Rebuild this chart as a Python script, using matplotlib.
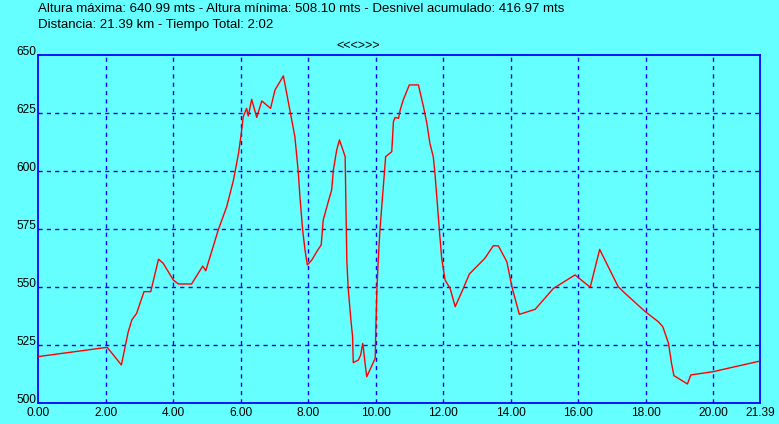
import matplotlib
matplotlib.use("Agg")
import matplotlib.pyplot as plt

dist = [0.00, 2.05, 2.47, 2.67, 2.78, 2.92, 3.14, 3.34, 3.57, 3.71, 4.01, 4.16, 4.55, 4.88, 4.97,
        5.34, 5.59, 5.79, 5.94, 6.01, 6.08, 6.18, 6.23, 6.33, 6.48, 6.63, 6.89, 7.02, 7.27,
        7.47, 7.61, 7.71, 7.76, 7.84, 7.91, 7.98, 8.11, 8.29, 8.39, 8.45, 8.60, 8.70, 8.75,
        8.85, 8.93, 9.00, 9.10, 9.13, 9.15, 9.19, 9.27, 9.32, 9.34, 9.49, 9.56, 9.62, 9.64,
        9.69, 9.74, 9.99, 10.01, 10.04, 10.08, 10.13, 10.23, 10.30, 10.48, 10.53, 10.58,
        10.68, 10.73, 10.82, 11.00, 11.27, 11.42, 11.52, 11.61, 11.71, 11.76, 11.83, 11.89,
        11.96, 12.06, 12.21, 12.36, 12.60, 12.78, 13.24, 13.49, 13.64, 13.89, 14.04, 14.26,
        14.73, 15.27, 15.91, 16.36, 16.64, 17.19, 17.39, 17.64, 17.99, 18.38, 18.51, 18.68,
        18.77, 18.84, 19.24, 19.34, 20.00, 21.39]
alt = [520.0, 524.0, 516.4, 530.5, 535.8, 538.6, 548.0, 548.0, 562.0, 560.2, 553.0, 551.3, 551.3, 559.0, 557.0,
       574.6, 584.6, 596.0, 607.6, 614.8, 623.4, 627.0, 623.7, 630.9, 623.1, 630.2, 627.0, 634.9, 641.0,
       625.6, 614.8, 599.7, 588.9, 574.6, 566.0, 559.5, 561.6, 566.0, 568.1, 578.9, 586.8, 591.8, 600.4,
       609.1, 613.4, 610.5, 606.2, 578.1, 561.0, 549.4, 535.8, 528.6, 517.4, 518.5, 520.7, 525.7, 523.6,
       517.0, 511.3, 519.3, 532.9, 548.7, 561.6, 574.6, 593.2, 606.2, 608.3, 621.3, 623.1,
       622.7, 626.3, 630.6, 637.1, 637.1, 627.7, 620.6, 611.9, 606.2, 599.0, 586.0, 574.6,
       562.4, 553.0, 549.4, 541.5, 549.4, 555.6, 562.4, 567.8, 567.7, 560.9, 550.1, 538.2,
       540.4, 549.4, 555.2, 549.9, 566.2, 550.1, 547.3, 544.0, 539.4, 535.0, 532.9, 525.7,
       517.0, 511.8, 508.2, 512.1, 513.5, 518.1]

xticks = [0, 2, 4, 6, 8, 10, 12, 14, 16, 18, 20, 21.39]
xticklabels = ["0.00", "2.00", "4.00", "6.00", "8.00", "10.00", "12.00", "14.00",
               "16.00", "18.00", "20.00", "21.39"]
yticks = [500, 525, 550, 575, 600, 625, 650]
yticklabels = ["500", "525", "550", "575", "600", "625", "650"]

title1 = "Altura máxima: 640.99 mts - Altura mínima: 508.10 mts - Desnivel acumulado: 416.97 mts"
title2 = "Distancia: 21.39 km - Tiempo Total: 2:02"

bg = "#66FFFF"
blue = "#0000FF"
plt.rcParams['font.family'] = ['Liberation Sans', 'DejaVu Sans']

W, H = 779, 424
fig = plt.figure(figsize=(W / 100, H / 100), dpi=100, facecolor=bg)
left, right, top, bottom = 38, 760, 55, 403
ax = fig.add_axes([left / W, 1 - bottom / H, (right - left) / W, (bottom - top) / H])
ax.set_facecolor(bg)
ax.plot(dist, alt, color="red", lw=1.0, zorder=3)
ax.set_xlim(0, 21.39)
ax.set_ylim(500, 650)

for x in xticks[1:-1]:
    ax.axvline(x, color=blue, lw=1.0, ls=(0, (3, 3)), zorder=1)
for y in yticks[1:-1]:
    ax.axhline(y, color=blue, lw=1.0, ls=(0, (3, 3)), zorder=1)

for s in ax.spines.values():
    s.set_color(blue)
    s.set_linewidth(1.3)

ax.set_xticks(xticks)
ax.set_xticklabels(xticklabels, fontsize=8.6)
ax.set_yticks(yticks)
ax.set_yticklabels(yticklabels, fontsize=8.6)
ax.tick_params(axis='both', length=0, colors='black')
ax.tick_params(axis='x', pad=3)
ax.tick_params(axis='y', pad=1)
for lab in ax.get_yticklabels():
    lab.set_va('baseline')

fig.text(38 / W, 1 - 3 / H, title1, fontsize=9.5, va='top', ha='left')
fig.text(38 / W, 1 - 19 / H, title2, fontsize=9.5, va='top', ha='left')
fig.text(358 / W, 1 - 40 / H, "<<<>>>", fontsize=9, va='top', ha='center')

fig.savefig("out.png", dpi=100, facecolor=bg)
